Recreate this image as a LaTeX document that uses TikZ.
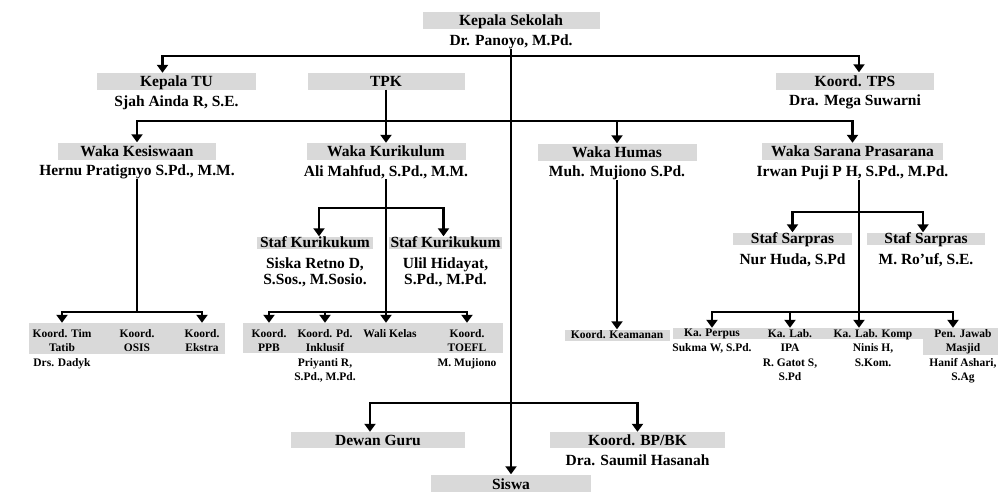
\documentclass[tikz,border=0pt]{standalone}
\usepackage{fontspec}
\setmainfont{Liberation Serif}
\usepackage{tikz}
\usetikzlibrary{arrows.meta,positioning,calc}
\definecolor{boxgray}{RGB}{217,217,217}
\newcommand{\bigfont}{\fontsize{15.5}{16}\selectfont\bfseries}
\newcommand{\smallfont}{\fontsize{11.5}{14.5}\selectfont\bfseries}

\begin{document}
\begin{tikzpicture}[
        x=1pt, y=-1pt,
        node distance=5pt,
        rolebox/.style={fill=boxgray, inner sep=0pt, minimum height=17pt, text height=10.5pt, text depth=0.3pt, font=\bigfont},
        stafbox/.style={rolebox, minimum height=12pt},
        person/.style={inner sep=0pt, align=center, font=\bigfont},
        graystrip/.style={fill=boxgray, inner sep=0pt},
        smallbox/.style={graystrip, text height=7.8pt, text depth=0.2pt, font=\smallfont},
        unit/.style={inner sep=0pt, align=center, anchor=north, font=\smallfont},
        conn/.style={line width=2.8pt},
        flow/.style={conn, ->, >={Triangle[width=11pt,length=8pt]}}
    ]
    \useasboundingbox (0,0) rectangle (998,491);

    % Pimpinan
    \node[rolebox, minimum width=177pt] (kepsek) at (511,20.5) {Kepala Sekolah};
    \node[person, below=5pt of kepsek] (kepsekname) {Dr. Panoyo, M.Pd.};
    \node[rolebox, minimum width=159pt] (kepalatu) at (176.5,81.5) {Kepala TU};
    \node[person, below=5pt of kepalatu] (kepalatuname) {Sjah Ainda R, S.E.};
    \node[rolebox, minimum width=157pt] (tpk) at (386,81) {TPK};
    \node[rolebox, minimum width=158pt] (tps) at (855,81) {Koord. TPS};
    \node[person, below=5pt of tps] (tpsname) {Dra. Mega Suwarni};

    % Waka
    \node[rolebox, minimum width=158pt] (wkes) at (137,151) {Waka Kesiswaan};
    \node[person, below=5pt of wkes] (wkesname) {Hernu Pratignyo S.Pd., M.M.};
    \node[rolebox, minimum width=159pt] (wkur) at (386,151.5) {Waka Kurikulum};
    \node[person, below=5pt of wkur] (wkurname) {Ali Mahfud, S.Pd., M.M.};
    \node[rolebox, minimum width=159pt] (whum) at (617,152) {Waka Humas};
    \node[person, below=5pt of whum] (whumname) {Muh. Mujiono S.Pd.};
    \node[rolebox, minimum width=181pt] (wsar) at (852.5,151.5) {Waka Sarana Prasarana};
    \node[person, below=5pt of wsar] (wsarname) {Irwan Puji P H, S.Pd., M.Pd.};

    % Staf
    \node[stafbox, minimum width=116pt] (stafkur1) at (315,242.5) {Staf Kurikukum};
    \node[person, below=9pt of stafkur1] (stafkur1name) {Siska Retno D,\\S.Sos., M.Sosio.};
    \node[stafbox, minimum width=113pt] (stafkur2) at (445.5,242.5) {Staf Kurikukum};
    \node[person, below=9pt of stafkur2] (stafkur2name) {Ulil Hidayat,\\S.Pd., M.Pd.};
    \node[stafbox, minimum width=119pt] (stafsar1) at (792.5,238.5) {Staf Sarpras};
    \node[person, below=9pt of stafsar1] (stafsar1name) {Nur Huda, S.Pd};
    \node[stafbox, minimum width=118pt] (stafsar2) at (926,238.5) {Staf Sarpras};
    \node[person, below=9pt of stafsar2] (stafsar2name) {M. Ro'uf, S.E.};

    % Koordinator
    \node[graystrip, minimum width=196pt, minimum height=31pt] (kesstrip) at (127,338.5) {};
    \node[unit] (tatib) at (62,329) {Koord. Tim\\Tatib\\Drs. Dadyk};
    \node[unit] (osis) at (137,329) {Koord.\\OSIS};
    \node[unit] (ekstra) at (202,329) {Koord.\\Ekstra};

    \node[graystrip, minimum width=260pt, minimum height=30pt] (kurstrip) at (373,338) {};
    \node[unit] (ppb) at (269,329) {Koord.\\PPB};
    \node[unit] (inklusif) at (325,329) {Koord. Pd.\\Inklusif\\Priyanti R,\\S.Pd., M.Pd.};
    \node[unit] (walikelas) at (390,329) {Wali Kelas};
    \node[unit] (toefl) at (467,329) {Koord.\\TOEFL\\M. Mujiono};

    \node[smallbox, minimum width=105pt, minimum height=11pt] (keamanan) at (617,335) {Koord. Keamanan};

    \node[graystrip, minimum width=325pt, minimum height=11pt] (sarstrip) at (835.5,333.5) {};
    \node[graystrip, minimum width=75pt, minimum height=27pt] (masjidbg) at (960.5,341.5) {};
    \node[unit] (perpus) at (712,329) {Ka. Perpus\\Sukma W, S.Pd.};
    \node[unit] (labipa) at (790,329) {Ka. Lab.\\IPA\\R. Gatot S,\\S.Pd};
    \node[unit] (labkomp) at (873,329) {Ka. Lab. Komp\\Ninis H,\\S.Kom.};
    \node[unit] (masjid) at (963,329) {Pen. Jawab\\Masjid\\Hanif Ashari,\\S.Ag};

    % Guru dan siswa
    \node[rolebox, minimum width=174pt, minimum height=16pt] (dewan) at (378,440) {Dewan Guru};
    \node[rolebox, minimum width=175pt, minimum height=16pt] (bpbk) at (637.5,440) {Koord. BP/BK};
    \node[person, below=6pt of bpbk] (bpbkname) {Dra. Saumil Hasanah};
    \node[rolebox, minimum width=160pt, minimum height=20pt] (siswa) at (511,484.5) {Siswa};

    % Garis komando
    \coordinate (t1) at (511,56);
    \coordinate (t2) at (511,121);
    \coordinate (t3) at (511,403);
    \draw[flow] (kepsekname) -- (siswa);
    \draw[flow] (t1) -| ([xshift=-14pt]kepalatu.north);
    \draw[flow] (t1) -| ([xshift=4pt]tps.north);
    \draw[flow] (tpk) -- (wkur);
    \draw[flow] (t2) -| (wkes);
    \draw[flow] (t2) -| (whum);
    \draw[flow] (t2) -| (wsar);
    \draw[flow] (t3) -| ([xshift=-8pt]dewan.north);
    \draw[flow] (t3) -| (bpbk);

    \coordinate (kesj) at (137,312);
    \draw[conn] (wkesname) -- (kesj);
    \draw[flow] (kesj) -| (tatib.north |- kesstrip.north);
    \draw[flow] (kesj) -| (ekstra.north |- kesstrip.north);

    \coordinate (kurs) at (386,208);
    \coordinate (kurj) at (386,312);
    \draw[flow] (wkurname) -- (kurj |- kurstrip.north);
    \draw[flow] (kurs) -| ([xshift=4pt]stafkur1.north);
    \draw[flow] (kurs) -| ([xshift=-2pt]stafkur2.north);
    \draw[flow] (kurj) -| (ppb.north |- kurstrip.north);
    \draw[flow] (kurj) -| (inklusif.north |- kurstrip.north);
    \draw[flow] (kurj) -| (toefl.north |- kurstrip.north);

    \draw[flow] (whumname) -- (keamanan);

    \coordinate (sars) at (859,212);
    \coordinate (sarj) at (859,312);
    \draw[flow] (sarj |- wsarname.south) -- (sarj |- sarstrip.north);
    \draw[flow] (sars) -| (stafsar1);
    \draw[flow] (sars) -| ([xshift=-3pt]stafsar2.north);
    \draw[flow] (sarj) -| (perpus.north |- sarstrip.north);
    \draw[flow] (sarj) -| (labipa.north |- sarstrip.north);
    \draw[flow] (sarj) -| ($(masjid.north |- sarstrip.north)+(-10,0)$);

\end{tikzpicture}
\end{document}
